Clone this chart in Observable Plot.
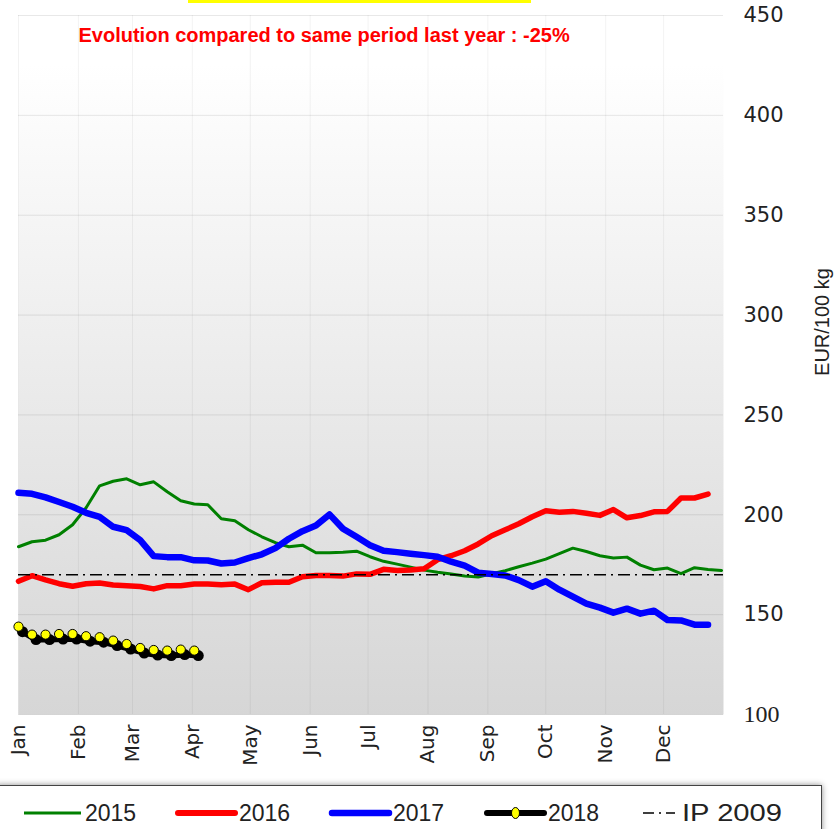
<!DOCTYPE html>
<html><head><meta charset="utf-8">
<script src="https://cdn.jsdelivr.net/npm/d3@7"></script>
<script src="https://cdn.jsdelivr.net/npm/@observablehq/plot@0.6"></script>
<style>
body{margin:0;background:#fff;width:835px;height:829px;overflow:hidden;position:relative;font-family:"Liberation Sans",Arial,sans-serif}
#chart{position:absolute;left:0;top:0}
#topbox{position:absolute;left:188px;top:-4px;width:343px;height:7px;background:#ffff00}
#legendbox{position:absolute;left:-4px;top:785px;width:824px;height:60px;border:1.5px solid #444;box-shadow:0 0 6px rgba(0,0,0,.45);background:#fff}
#legend{position:absolute;left:0;top:785px}
</style></head><body>
<div id="chart"></div><div id="topbox"></div><div id="legendbox"></div><div id="legend"></div>
<script>
// ---- data ----
const months = ["Jan","Feb","Mar","Apr","May","Jun","Jul","Aug","Sep","Oct","Nov","Dec"];
const monthStartDays = [0,31,59,90,120,151,181,212,243,273,304,334];
const yTicks = [100,150,200,250,300,350,400,450];
const v2015 = [184,186.5,187.3,190,195,203.5,214.5,216.8,218,215,216.5,211.5,207,205.4,205,198,197,192.5,189,186,184,184.8,181,181,181.2,181.8,179,176.7,175.3,173.8,172.3,171.2,170.3,169.4,168.8,170.5,172,174,175.8,177.8,180.5,183.3,181.6,179.5,178.4,178.8,174.8,172.5,173.3,170.5,173.5,172.6,172.1];
const v2016 = [166.7,169.5,167.4,165.5,164.2,165.5,165.8,164.8,164.5,164.1,162.9,164.5,164.5,165.3,165.3,165,165.3,162.5,166,166.2,166.2,169,169.6,169.6,169.3,170.4,170.2,172.7,172.1,172.3,173,177.5,179.5,182,185.4,189.5,192.5,195.5,199,202,201.3,201.7,200.8,199.7,202.6,198.5,199.6,201.5,201.7,208.4,208.4,210.4];
const v2017 = [211,210.5,208.7,206.4,204,201,199,194,192.3,187.3,179.3,178.8,178.8,177.2,177.1,175.6,176.1,178.3,180.2,183.3,188,191.8,194.6,200.2,193,189,184.8,182,181.3,180.5,179.8,179,176.5,174.5,171,170.4,169.6,167.3,164,166.7,162.5,159,155.5,153.5,151,153,150.5,152,147.3,147.1,145,145];
const v2018 = [144,140,140,140.3,140.3,139.2,138.7,137,135.3,133.3,132.3,132,132.5,132];
const ipValue = 170;
const seriesNames = ["2015","2016","2017","2018","IP 2009"];
const seriesColors = ["#008000","#ff0000","#0000ff","#000000","#000000"];
const titleText = "Evolution compared to same period last year : -25%";
const yLabel = "EUR/100 kg";

const weekly = vals => vals.map((v,i)=>({day:i*7, value:v}));
const d2015 = weekly(v2015), d2016 = weekly(v2016), d2017 = weekly(v2017), d2018 = weekly(v2018);

const chart = Plot.plot({
  width: 835, height: 780,
  marginLeft: 18, marginRight: 112, marginTop: 15, marginBottom: 66,
  style: {fontFamily: "'DejaVu Sans', Verdana, sans-serif", background: "transparent"},
  x: {domain: [0, 365], axis: null},
  y: {domain: [100, 450], axis: null},
  marks: [
    Plot.frame({fill: "url(#bggrad)", stroke: "none"}),
    Plot.gridY(yTicks, {stroke: "#000", strokeOpacity: 0.09}),
    Plot.gridX(monthStartDays, {stroke: "#000", strokeOpacity: 0.05}),
    Plot.axisX(monthStartDays, {anchor: "bottom", tickSize: 0, tickPadding: 10, tickRotate: -90,
      tickFormat: (d,i) => months[i], fontSize: 20, fill: "#222", label: null}),
    Plot.axisY(yTicks, {anchor: "right", tickSize: 0, tickPadding: 20, fontSize: 21, fill: "#222",
      textAnchor: "start", label: null}),
    Plot.text([titleText], {frameAnchor: "top-left", dx: 60, dy: 20, textAnchor: "start", lineAnchor: "middle",
      fill: "#ff0000", fontSize: 20, fontWeight: "bold", fontFamily: "'Liberation Sans', Arial, sans-serif"}),
    Plot.line(d2015, {x: "day", y: "value", stroke: seriesColors[0], strokeWidth: 3}),
    Plot.line(d2016, {x: "day", y: "value", stroke: seriesColors[1], strokeWidth: 5.5}),
    Plot.line(d2017, {x: "day", y: "value", stroke: seriesColors[2], strokeWidth: 6.5}),
    Plot.ruleY([ipValue], {stroke: "#000", strokeWidth: 1.6, strokeDasharray: "12,5,2,5"}),
    Plot.line(d2018, {x: "day", y: "value", stroke: "#000", strokeWidth: 6, dx: 4, dy: 5}),
    Plot.dot(d2018, {x: "day", y: "value", r: 5.5, fill: "#000", dx: 4, dy: 5}),
    Plot.dot(d2018, {x: "day", y: "value", r: 4.6, fill: "#ffff00", stroke: "#000", strokeWidth: 1})
  ]
});

// gradient background for plot frame
const svg = d3.select(chart);
const defs = svg.insert("defs", ":first-child");
const g = defs.append("linearGradient").attr("id", "bggrad").attr("x1", 0).attr("y1", 0).attr("x2", 0).attr("y2", 1);
g.append("stop").attr("offset", "0%").attr("stop-color", "#ffffff");
g.append("stop").attr("offset", "7%").attr("stop-color", "#ffffff");
g.append("stop").attr("offset", "100%").attr("stop-color", "#d6d6d6");
svg.selectAll("text").filter(function(){ return this.textContent === "100"; })
  .style("font-family", "'Liberation Serif', serif").style("font-size", "24px");
// y-axis title (right side, rotated)
svg.append("text").attr("transform", "translate(829,322) rotate(-90)")
  .attr("text-anchor", "middle").attr("font-family", "'Liberation Sans', Arial, sans-serif")
  .attr("font-size", 20).attr("fill", "#222").text(yLabel);
document.getElementById("chart").appendChild(chart);

// legend
const lx = [24, 178, 332, 487, 643];
const lw = [57, 57, 57, 57, 32];
const lsw = [3, 6, 6.5, 6, 1.5];
const ls = d3.select("#legend").append("svg").attr("width", 835).attr("height", 44);
seriesNames.forEach((name, i) => {
  const y = 28;
  const line = ls.append("line").attr("x1", lx[i]).attr("x2", lx[i] + lw[i]).attr("y1", y).attr("y2", y)
    .attr("stroke", seriesColors[i]).attr("stroke-width", lsw[i]).attr("stroke-linecap", i === 1 || i === 2 || i === 3 ? "round" : "butt");
  if (i === 4) line.attr("stroke-dasharray", "11,5,2,5");
  if (i === 3) ls.append("ellipse").attr("cx", lx[i] + lw[i]/2).attr("cy", y).attr("rx", 4).attr("ry", 5.5)
    .attr("fill", "#ffff00").attr("stroke", "#000").attr("stroke-width", 1);
  const t = ls.append("text").attr("x", lx[i] + lw[i] + (i === 4 ? 7 : 4)).attr("y", y + 8)
    .attr("font-family", "'Liberation Sans', Arial, sans-serif").attr("font-size", 23).attr("fill", "#222")
    .text(name);
  if (i === 4) t.attr("textLength", 100).attr("lengthAdjust", "spacingAndGlyphs");
});
</script></body></html>
